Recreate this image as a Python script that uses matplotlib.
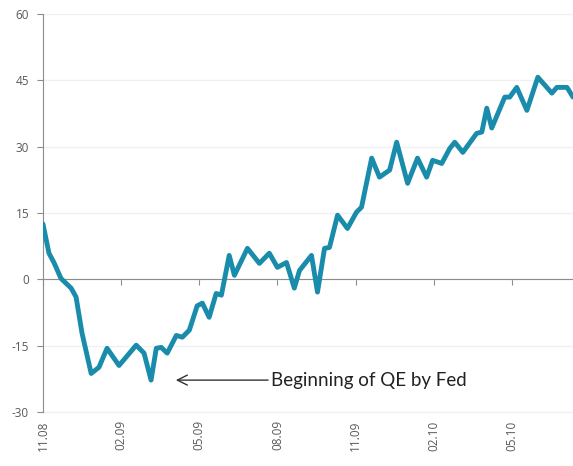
import numpy as np
import matplotlib
matplotlib.use("Agg")
import matplotlib.pyplot as plt

# months since 11.08, and index value
months = [0.0, 0.23, 0.42, 0.69, 1.08, 1.27, 1.50, 1.85, 2.15, 2.46, 2.92, 3.58, 3.88,
          4.15, 4.35, 4.54, 4.77, 5.12, 5.35, 5.62, 5.92, 6.12, 6.38, 6.65, 6.85, 7.15,
          7.35, 7.85, 8.31, 8.69, 9.00, 9.35, 9.65, 9.85, 10.31, 10.54, 10.81, 11.00,
          11.31, 11.69, 12.04, 12.23, 12.62, 12.92, 13.31, 13.58, 14.00, 14.38, 14.73,
          14.96, 15.31, 15.62, 15.81, 16.12, 16.65, 16.85, 17.04, 17.23, 17.73, 17.92,
          18.19, 18.58, 19.00, 19.54, 19.73, 20.12, 20.35]
values = [12.5, 5.9, 3.8, 0.2, -2.0, -4.0, -12.2, -21.3, -19.9, -15.6, -19.5, -14.9, -16.7,
          -22.8, -15.6, -15.4, -16.7, -12.7, -13.1, -11.5, -6.0, -5.4, -8.6, -3.2, -3.6, 5.4,
          0.9, 7.0, 3.6, 5.9, 2.7, 3.8, -2.0, 2.0, 5.4, -2.9, 7.0, 7.2,
          14.5, 11.5, 15.2, 16.3, 27.4, 23.1, 24.7, 31.0, 21.7, 27.4, 23.1,
          26.9, 26.2, 29.6, 31.0, 28.7, 33.0, 33.3, 38.7, 34.2, 41.2, 41.2,
          43.4, 38.2, 45.7, 42.1, 43.4, 43.4, 41.2]

tick_months = [0, 3, 6, 9, 12, 15, 18]
tick_labels = ["11.08", "02.09", "05.09", "08.09", "11.09", "02.10", "05.10"]
y_ticks = [-30, -15, 0, 15, 30, 45, 60]

axis_col = "#8c8c8c"
text_col = "#595959"

fig = plt.figure(figsize=(5.73, 4.66), dpi=100)
ax = fig.add_axes([0.075, 0.116, 0.925, 0.854])

ax.plot(months, values, color="#1a8cab", lw=3.5, solid_joinstyle="round",
        solid_capstyle="round", zorder=3)

ax.set_xlim(0, 20.35)
ax.set_ylim(-30, 60)
ax.set_yticks(y_ticks)
ax.set_yticklabels([str(v) for v in y_ticks], fontsize=8.5, color=text_col,
                   family="Open Sans")
ax.grid(axis="y", color="#f0f0f0", lw=1)
ax.set_axisbelow(True)

for s in ["top", "right"]:
    ax.spines[s].set_visible(False)
ax.spines["left"].set_color(axis_col)
ax.spines["bottom"].set_position(("data", 0))
ax.spines["bottom"].set_color(axis_col)
ax.tick_params(axis="y", direction="out", length=4, color=axis_col, pad=6)
ax.set_xticks(tick_months)
ax.tick_params(axis="x", direction="out", length=4, color=axis_col, labelbottom=False)

sec = ax.secondary_xaxis("bottom")
sec.set_xticks(tick_months)
sec.set_xticklabels(tick_labels, rotation=90, fontsize=8.5, color=text_col,
                    family="Open Sans")
sec.tick_params(length=0, pad=6)
sec.spines["bottom"].set_color("#f0f0f0")

ax.annotate("Beginning of QE by Fed", xy=(5.1, -22.8), xytext=(8.75, -22.8),
            fontsize=13.5, family="Lato", color="#222222", va="center", ha="left",
            arrowprops=dict(arrowstyle="->", color="#333333", lw=1,
                            shrinkA=0, shrinkB=0, mutation_scale=18))

fig.savefig("out.png", dpi=100)
